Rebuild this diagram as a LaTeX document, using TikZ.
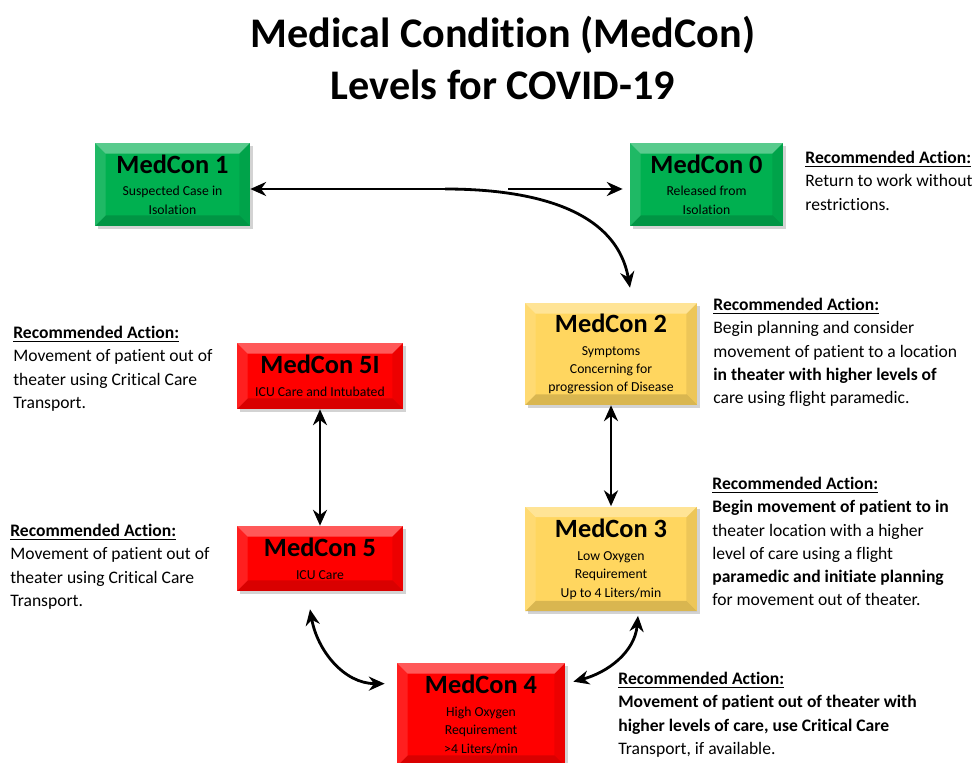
\documentclass[tikz,border=0pt]{standalone}
\usepackage{fontspec}
\setmainfont[Ligatures=NoCommon]{Carlito}
\usetikzlibrary{arrows.meta,shadows,calc}

\definecolor{mcgreen}{RGB}{0,176,80}
\definecolor{mcyellow}{RGB}{255,214,95}
\definecolor{mcred}{RGB}{255,0,0}

\newcommand{\mctitle}[1]{{\fontsize{15}{18}\selectfont\bfseries #1}\\[2.5pt]}
\newcommand{\rechead}{\underline{\textbf{Recommended Action:}}}

\begin{document}
\begin{tikzpicture}[x=0.02cm, y=-0.02cm,
    level/.style={rectangle, inner sep=0pt, align=center,
      font=\fontsize{7.8}{10.5}\selectfont,
      drop shadow={opacity=0.35, shadow xshift=1.5pt, shadow yshift=-1.5pt},
      path picture={
        \path (path picture bounding box.north west) coordinate (p1)
              (path picture bounding box.north east) coordinate (p2)
              (path picture bounding box.south east) coordinate (p3)
              (path picture bounding box.south west) coordinate (p4);
        \fill[white, opacity=.35] (p1) -- (p2) -- ([shift={(-6pt,-6pt)}]p2) -- ([shift={(6pt,-6pt)}]p1) -- cycle;
        \fill[black, opacity=.15] (p4) -- (p3) -- ([shift={(-6pt,6pt)}]p3) -- ([shift={(6pt,6pt)}]p4) -- cycle;
        \fill[black, opacity=.07] (p2) -- (p3) -- ([shift={(-6pt,6pt)}]p3) -- ([shift={(-6pt,-6pt)}]p2) -- cycle;
        \fill[white, opacity=.12] (p1) -- (p4) -- ([shift={(6pt,6pt)}]p4) -- ([shift={(6pt,-6pt)}]p1) -- cycle;
      }},
    greenlvl/.style={level, fill=mcgreen},
    yellowlvl/.style={level, fill=mcyellow},
    redlvl/.style={level, fill=mcred},
    recact/.style={anchor=north west, inner sep=0pt, align=left,
      font=\fontsize{10}{13.2}\selectfont},
    arr/.style={line width=1.6pt, -{Stealth[length=9pt, width=8pt]}},
    darr/.style={line width=1.6pt, {Stealth[length=9pt, width=8pt]}-{Stealth[length=9pt, width=8pt]}}
  ]
  \useasboundingbox (0,0) rectangle (977,763);

  \node (title) [align=center, font=\bfseries\fontsize{24}{30}\selectfont] at (503,58)
    {Medical Condition (MedCon)\\Levels for COVID-19};

  % levels
  \node (m1) [greenlvl, minimum width=3.1cm, minimum height=1.66cm] at (172.5,184.5)
    {\mctitle{MedCon 1}Suspected Case in\\Isolation};
  \node (m0) [greenlvl, minimum width=3.06cm, minimum height=1.66cm] at (706.5,184.5)
    {\mctitle{MedCon 0}Released from\\Isolation};
  \node (m2) [yellowlvl, minimum width=3.44cm, minimum height=2.04cm] at (611,354)
    {\mctitle{MedCon 2}Symptoms\\Concerning for\\progression of Disease};
  \node (m5i) [redlvl, minimum width=3.32cm, minimum height=1.32cm] at (320,376)
    {\mctitle{MedCon 5I}ICU Care and Intubated};
  \node (m3) [yellowlvl, minimum width=3.44cm, minimum height=2.1cm] at (611,559)
    {\mctitle{MedCon 3}Low Oxygen\\Requirement\\Up to 4 Liters/min};
  \node (m5) [redlvl, minimum width=3.32cm, minimum height=1.3cm] at (320,558.5)
    {\mctitle{MedCon 5}ICU Care};
  \node (m4) [redlvl, minimum width=3.36cm, minimum height=2.06cm] at (481,714.5)
    {\mctitle{MedCon 4}High Oxygen\\Requirement\\>4 Liters/min};

  % recommended actions
  \node (r0) [recact] at (805,151)
    {\rechead\\Return to work without\\restrictions.};
  \node (r2) [recact] at (713,298)
    {\rechead\\Begin planning and consider\\movement of patient to a location\\
     \textbf{in theater with higher levels of}\\care using flight paramedic.};
  \node (r5i) [recact] at (13,326)
    {\rechead\\Movement of patient out of\\theater using Critical Care\\Transport.};
  \node (r3) [recact] at (712,477)
    {\rechead\\\textbf{Begin movement of patient to in}\\theater location with a higher\\
     level of care using a flight\\\textbf{paramedic and initiate planning}\\for movement out of theater.};
  \node (r5) [recact] at (10,524)
    {\rechead\\Movement of patient out of\\theater using Critical Care\\Transport.};
  \node (r4) [recact] at (618,672)
    {\rechead\\\textbf{Movement of patient out of theater with}\\
     \textbf{higher levels of care, use Critical Care}\\Transport, if available.};

  % connectors
  \coordinate (split) at (445,189);
  \coordinate (split2) at (508,189);
  \draw[arr] (split) -- (split -| m1.east);
  \draw[arr, shorten >=4pt] (split2) -- (split2 -| m0.west);
  \draw[arr] (split) to[out=0, in=100] ($(m2.north)+(19,-15)$);
  \draw[darr] (m2) -- (m3);
  \draw[darr] (m5i) -- (m5);
  \draw[darr] ($(m5.south)+(-10,18)$) to[out=-80, in=180] ($(m4.north west)+(-12,21)$);
  \draw[darr] ($(m3.south)+(27,4)$) to[out=-95, in=15] ($(m4.north east)+(8,19)$);
\end{tikzpicture}
\end{document}
